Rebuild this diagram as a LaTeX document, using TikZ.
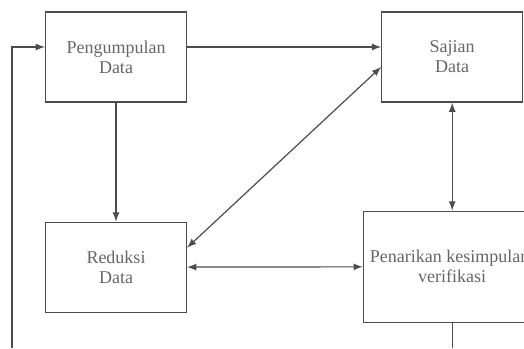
\documentclass[tikz,border=0pt]{standalone}
\usepackage{fontspec}
\setmainfont{Liberation Serif}
\usetikzlibrary{positioning}
\usetikzlibrary{arrows}

\begin{document}
\begin{tikzpicture}
	[x=0.5pt, y=-0.5pt, >=latex, line width=0.6pt, draw=black!70,
	 main/.style = {draw, rectangle, minimum width=70.5pt, minimum height=45pt, align=center, text=black!60, font=\fontsize{9}{10}\selectfont}]
	\useasboundingbox (0,0) rectangle (524,348);
	\clip (0,0) rectangle (524,348);
	\node[main] (peng) at (116,57) {Pengumpulan\\Data};
	\node[main] (saj) [right = 97pt of peng] {Sajian\\Data};
	\node[main] (red) [below = 59.5pt of peng] {Reduksi\\Data};
	\node[main, minimum width=86pt, minimum height=55.5pt] (pen) [below = 54pt of saj] {Penarikan kesimpulan/\\verifikasi};
	\coordinate (loopend) at (12,348);
	\coordinate (penend) at (pen.south |- loopend);
	\draw[->] ([yshift=5pt]peng.east) -- ([yshift=5pt]saj.west);
	\draw[->] (peng) -- (red);
	\draw[<->] ([yshift=9.75pt]red.east) -- ([yshift=-5pt]saj.west);
	\draw[<->] (red) -- (pen);
	\draw[<->] (saj) -- (pen);
	\draw (pen) -- (penend);
	\draw[->] (loopend) |- ([yshift=5pt]peng.west);
\end{tikzpicture}
\end{document}
